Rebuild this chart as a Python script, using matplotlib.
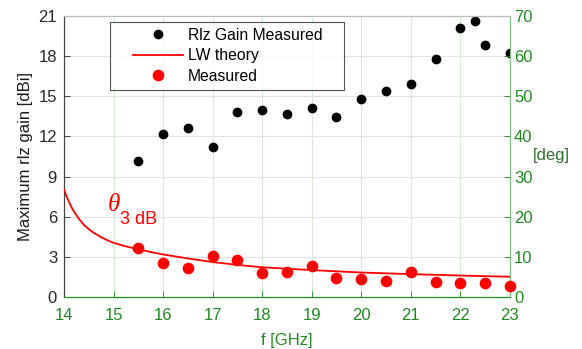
import numpy as np
import matplotlib
matplotlib.use("Agg")
import matplotlib.pyplot as plt
from matplotlib.lines import Line2D
from matplotlib.legend_handler import HandlerLine2D

plt.rcParams['font.family'] = ['Liberation Sans', 'DejaVu Sans']

# --- data ---
f_gain = [15.5, 16.0, 16.5, 17.0, 17.5, 18.0, 18.5, 19.0, 19.5, 20.0,
          20.5, 21.0, 21.5, 22.0, 22.3, 22.5, 23.0]
gain_dbi = [10.2, 12.15, 12.65, 11.2, 13.85, 13.95, 13.65, 14.15, 13.45, 14.8,
            15.4, 15.9, 17.8, 20.1, 20.6, 18.8, 18.25]

f_theory = [14.0, 14.05, 14.1, 14.15, 14.2, 14.3, 14.4, 14.5, 14.6, 14.75,
            14.9, 15.0, 15.25, 15.5, 15.75, 16.0, 16.5, 17.0, 17.5, 18.0,
            19.0, 20.0, 21.0, 22.0, 23.0]
theta_theory = [26.8, 25.1, 23.7, 22.4, 21.3, 19.5, 18.0, 16.9, 16.0, 14.9,
                14.0, 13.5, 12.6, 11.9, 11.2, 10.6, 9.6, 8.7, 8.0, 7.4,
                6.7, 6.1, 5.7, 5.35, 5.05]

f_theta = [15.5, 16.0, 16.5, 17.0, 17.5, 18.0, 18.5, 19.0, 19.5, 20.0,
           20.5, 21.0, 21.5, 22.0, 22.5, 23.0]
theta_meas = [12.1, 8.55, 7.15, 10.2, 9.2, 6.05, 6.3, 7.8, 4.75, 4.4,
              4.1, 6.15, 3.75, 3.6, 3.4, 2.75]

x_ticks = list(range(14, 24))
left_ticks = [0, 3, 6, 9, 12, 15, 18, 21]
right_ticks = [0, 10, 20, 30, 40, 50, 60, 70]

green = '#1f8a1f'
dark_green = '#2f6f2f'
light_green = '#80c080'
fs = 12
leg_fs = 11.3

fig = plt.figure(figsize=(5.82, 3.49), dpi=100)
ax = fig.add_axes([0.110, 0.149, 0.766, 0.805])
ax2 = ax.twinx()

# grid: vertical light green, horizontal light gray
for xv in x_ticks:
    ax.axvline(xv, color='#d6ead6', lw=0.8, zorder=0)
for yv in left_ticks:
    ax.axhline(yv, color='#e3e3e3', lw=0.8, zorder=0)

ax.plot(f_gain, gain_dbi, 'o', color='black', ms=6, zorder=3)
ax2.plot(f_theory, theta_theory, '-', color='red', lw=1.3, zorder=3)
ax2.plot(f_theta, theta_meas, 'o', color='red', ms=7.4, zorder=3,
         clip_on=False)

ax.set_xlim(14, 23)
ax.set_ylim(0, 21)
ax2.set_ylim(0, 70)
ax.set_xticks(x_ticks)
ax.set_yticks(left_ticks)
ax2.set_yticks(right_ticks)

ax.tick_params(axis='y', direction='in', length=4, colors='#262626',
               labelsize=fs, width=0.6, pad=5)
ax.tick_params(axis='x', direction='in', length=4, colors=green,
               labelsize=fs, width=0.6, pad=8)
ax2.tick_params(axis='y', direction='in', length=4, colors=green,
                labelsize=fs, width=0.6, pad=3)

for a in (ax, ax2):
    a.spines['left'].set_color('#404040')
    a.spines['top'].set_color('#bdbdbd')
    a.spines['bottom'].set_color(green)
    a.spines['right'].set_color(light_green)
    for s in a.spines.values():
        s.set_linewidth(0.8)

ax.set_xlabel('f [GHz]', color=green, fontsize=fs, labelpad=7)
ax.set_ylabel('Maximum rlz gain [dBi]', color='#1a1a1a', fontsize=fs,
              labelpad=4)
ax2.text(1.094, 0.505, '[deg]', transform=ax.transAxes, color=dark_green,
         fontsize=fs, ha='center', va='center')

# theta_3dB annotation
ax.text(15.0, 6.85, '\u03b8', color='red', fontsize=18, style='italic',
        family='Liberation Serif', ha='center', va='center')
ax.text(15.13, 5.8, '3 dB', color='red', fontsize=13, ha='left',
        va='center')

handles = [
    Line2D([], [], ls='none', marker='o', color='black', ms=6),
    Line2D([], [], ls='-', color='red', lw=1.3),
    Line2D([], [], ls='none', marker='o', color='red', ms=7.4),
]
labels = ['Rlz Gain Measured', 'LW theory', 'Measured']
hmap = {h: HandlerLine2D(xpad=1.1) for h in handles}
leg = ax2.legend(handles, labels, loc='upper left', mode='expand',
                 bbox_to_anchor=(0.103, 0.75, 0.525, 0.229),
                 fontsize=leg_fs, handler_map=hmap,
                 frameon=True, fancybox=False, edgecolor='#262626',
                 handlelength=4.3, handletextpad=0.3, labelspacing=0.34,
                 borderpad=0.38, borderaxespad=0)
leg.get_frame().set_linewidth(0.8)

fig.savefig('out.png', dpi=100)
